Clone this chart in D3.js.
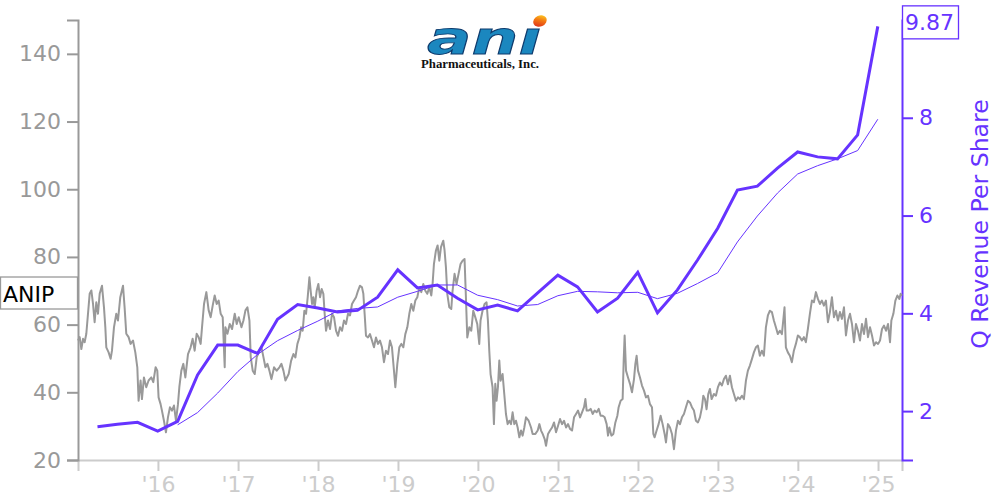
<!DOCTYPE html>
<html><head><meta charset="utf-8">
<script src="https://cdn.jsdelivr.net/npm/d3@7"></script>
<style>body{margin:0;background:#fff;} svg{display:block;font-family:"DejaVu Sans",sans-serif;}</style>
</head><body><svg id="chart" width="1000" height="500"></svg>
<script>
// ---- data ----
const ticker = "ANIP";
const rightTitle = "Q Revenue Per Share";
const quarterEnds = ["2015-03-31","2015-06-30","2015-09-30","2015-12-31","2016-03-31","2016-06-30","2016-09-30","2016-12-31",
"2017-03-31","2017-06-30","2017-09-30","2017-12-31","2018-03-31","2018-06-30","2018-09-30","2018-12-31",
"2019-03-31","2019-06-30","2019-09-30","2019-12-31","2020-03-31","2020-06-30","2020-09-30","2020-12-31",
"2021-03-31","2021-06-30","2021-09-30","2021-12-31","2022-03-31","2022-06-30","2022-09-30","2022-12-31",
"2023-03-31","2023-06-30","2023-09-30","2023-12-31","2024-03-31","2024-06-30","2024-09-30","2024-12-31"];
const revenuePerShare = [1.68,1.73,1.77,1.59,1.79,2.74,3.35,3.35,3.18,3.88,4.18,4.11,4.03,4.06,4.33,4.89,
4.52,4.58,4.31,4.07,4.17,4.05,4.42,4.78,4.54,4.03,4.31,4.84,4.01,4.48,5.09,5.74,6.52,6.60,6.97,7.30,7.20,7.16,7.65,9.87];
const revenueAvg4Q = [null,null,null,null,1.72,1.97,2.37,2.81,3.16,3.44,3.65,3.84,4.05,4.10,4.13,4.33,
4.45,4.58,4.58,4.37,4.28,4.15,4.18,4.36,4.45,4.44,4.42,4.43,4.30,4.41,4.61,4.83,5.46,5.99,6.46,6.85,7.02,7.16,7.33,7.97];
const priceSeries = [
[2015.000,55.3],[2015.021,56.3],[2015.042,52.8],[2015.063,55.8],[2015.083,54.8],[2015.104,57.3],[2015.146,69.1],[2015.167,70.1],[2015.188,66.1],[2015.208,60.7],[2015.229,66.6],[2015.250,63.2],[2015.271,69.1],[2015.300,71.5],[2015.325,65.1],[2015.342,59.2],[2015.354,53.3],[2015.383,51.8],[2015.408,49.9],[2015.425,52.3],[2015.450,59.2],[2015.479,63.2],[2015.500,61.2],[2015.529,68.1],[2015.563,71.5],[2015.583,65.1],[2015.604,57.3],[2015.633,56.3],[2015.658,54.3],[2015.688,55.3],[2015.717,51.8],[2015.742,47.4],[2015.758,37.5],[2015.783,43.5],[2015.800,38.0],[2015.825,44.4],[2015.854,41.5],[2015.883,43.5],[2015.917,44.4],[2015.942,43.0],[2015.971,47.4],[2015.992,46.4],
[2016.008,38.5],[2016.033,36.5],[2016.050,34.6],[2016.075,31.6],[2016.100,28.2],[2016.125,32.6],[2016.150,35.6],[2016.175,34.6],[2016.200,36.1],[2016.225,31.6],[2016.250,36.5],[2016.267,41.5],[2016.292,46.4],[2016.317,48.4],[2016.342,44.4],[2016.375,51.3],[2016.408,53.3],[2016.433,55.8],[2016.458,52.3],[2016.483,57.3],[2016.508,56.3],[2016.533,54.3],[2016.550,59.2],[2016.575,66.1],[2016.604,69.6],[2016.633,64.2],[2016.658,62.2],[2016.683,65.6],[2016.708,68.6],[2016.733,66.1],[2016.758,67.1],[2016.783,63.2],[2016.808,62.2],[2016.833,47.4],[2016.842,59.2],[2016.867,57.3],[2016.896,60.2],[2016.925,58.7],[2016.958,63.2],[2016.983,60.2],
[2017.008,62.2],[2017.042,59.2],[2017.067,61.2],[2017.092,64.2],[2017.117,65.1],[2017.142,61.2],[2017.158,50.4],[2017.183,46.4],[2017.208,45.4],[2017.233,50.4],[2017.267,52.3],[2017.292,53.3],[2017.317,50.4],[2017.342,47.4],[2017.367,48.4],[2017.392,46.4],[2017.417,43.9],[2017.450,47.4],[2017.483,46.4],[2017.517,47.4],[2017.542,48.4],[2017.567,46.4],[2017.592,43.5],
[2017.633,45.4],[2017.663,49.3],[2017.692,51.3],[2017.717,50.3],[2017.742,54.3],[2017.767,56.2],[2017.788,59.2],[2017.808,58.2],[2017.829,64.1],[2017.850,63.2],[2017.871,68.1],[2017.892,74.0],[2017.908,70.0],[2017.925,66.1],[2017.942,68.1],[2017.958,65.1],[2017.983,70.0],
[2018.004,72.0],[2018.025,68.1],[2018.046,70.5],[2018.067,69.1],[2018.083,63.2],[2018.100,58.2],[2018.125,61.2],[2018.150,58.7],[2018.175,63.2],[2018.200,62.2],[2018.225,58.2],[2018.250,56.7],[2018.275,59.2],[2018.300,58.2],[2018.325,61.2],[2018.350,60.2],[2018.375,63.2],[2018.400,62.7],[2018.425,66.1],[2018.450,67.1],[2018.475,68.1],[2018.500,70.0],[2018.525,71.5],[2018.550,71.0],[2018.567,69.1],[2018.583,63.2],[2018.600,56.7],[2018.625,56.2],[2018.650,57.2],[2018.675,55.3],[2018.700,53.3],[2018.725,56.2],[2018.750,54.3],[2018.775,55.3],[2018.800,53.3],[2018.825,48.9],[2018.850,52.3],[2018.875,51.3],[2018.900,55.3],[2018.925,53.3],[2018.950,46.4],[2018.967,41.5],[2018.992,48.4],
[2019.017,53.3],[2019.042,54.3],[2019.067,53.3],[2019.092,57.2],[2019.117,59.2],[2019.142,63.2],[2019.167,66.1],[2019.192,64.1],[2019.217,67.1],[2019.242,68.1],[2019.267,71.0],[2019.292,69.6],[2019.317,72.0],[2019.342,70.0],[2019.367,69.1],[2019.392,71.0],[2019.417,68.6],[2019.433,72.0],[2019.450,77.9],[2019.475,81.9],[2019.496,83.4],[2019.517,78.9],[2019.538,82.9],[2019.567,84.8],[2019.583,81.9],[2019.600,77.0],[2019.617,69.1],[2019.642,65.1],[2019.667,64.6],[2019.683,70.0],[2019.708,75.0],[2019.733,72.0],[2019.758,75.0],[2019.783,77.9],[2019.808,78.9],[2019.833,79.4],[2019.850,68.1],[2019.867,56.2],[2019.892,59.2],[2019.917,58.2],[2019.942,64.1],[2019.967,62.2],[2019.992,60.2],
[2020.017,54.3],[2020.033,61.2],[2020.058,64.1],[2020.083,66.1],[2020.108,66.6],[2020.125,61.2],[2020.142,52.3],[2020.158,45.4],[2020.183,41.5],[2020.200,30.6],[2020.217,42.5],[2020.233,37.5],[2020.250,41.5],[2020.267,49.4],[2020.283,43.4],[2020.308,45.4],[2020.329,39.5],[2020.350,33.6],[2020.371,30.6],[2020.392,31.6],[2020.413,30.6],[2020.433,34.1],[2020.454,30.6],[2020.475,31.6],[2020.496,29.6],[2020.517,26.7],[2020.538,28.7],[2020.558,27.2],[2020.579,29.6],[2020.600,32.6],[2020.633,31.6],[2020.663,29.6],[2020.683,27.7],[2020.717,27.7],[2020.746,28.7],[2020.767,30.6],[2020.788,28.7],[2020.808,27.7],[2020.833,26.2],[2020.850,24.2],[2020.875,27.7],[2020.900,28.7],[2020.925,29.6],[2020.950,31.1],[2020.975,28.2],
[2021.000,30.1],[2021.025,32.1],[2021.050,30.6],[2021.075,31.6],[2021.100,29.6],[2021.125,30.6],[2021.150,29.2],[2021.175,28.7],[2021.200,32.6],[2021.225,33.6],[2021.250,34.6],[2021.275,32.6],[2021.300,34.1],[2021.325,35.6],[2021.342,38.0],[2021.358,34.6],[2021.383,34.6],[2021.408,35.1],[2021.433,33.6],[2021.458,34.6],[2021.483,34.1],[2021.508,35.1],[2021.533,33.1],[2021.558,33.1],[2021.583,32.6],[2021.608,30.6],[2021.625,27.2],[2021.642,29.6],[2021.667,27.2],[2021.692,27.7],[2021.717,31.1],[2021.742,33.1],[2021.758,35.6],[2021.783,37.5],[2021.808,38.0],[2021.821,49.4],[2021.833,56.8],[2021.850,46.4],[2021.875,44.4],[2021.900,42.5],[2021.925,40.0],[2021.950,43.9],[2021.967,48.4],[2021.983,50.8],
[2022.000,46.4],[2022.025,44.4],[2022.050,42.0],[2022.075,40.5],[2022.100,38.5],[2022.125,39.0],[2022.150,36.5],[2022.175,35.6],[2022.192,27.7],[2022.208,26.7],[2022.233,28.7],[2022.258,30.6],[2022.283,33.1],[2022.308,30.6],[2022.333,27.7],[2022.350,25.2],[2022.375,30.6],[2022.400,29.6],[2022.425,27.7],[2022.450,23.2],[2022.475,28.7],[2022.500,31.6],[2022.525,30.6],[2022.550,32.6],[2022.575,33.6],[2022.600,35.6],[2022.625,37.5],[2022.650,37.0],[2022.675,35.6],[2022.700,34.6],[2022.725,31.6],[2022.750,31.1],[2022.775,32.6],[2022.800,35.5],[2022.817,39.0],[2022.838,38.0],[2022.858,35.0],[2022.879,39.5],[2022.900,41.0],[2022.921,38.0],[2022.950,39.5],[2022.975,39.0],
[2023.000,41.5],[2023.025,42.9],[2023.050,42.0],[2023.075,43.9],[2023.100,44.9],[2023.125,42.4],[2023.150,44.9],[2023.175,41.5],[2023.200,39.5],[2023.225,37.5],[2023.250,38.5],[2023.275,38.0],[2023.300,39.0],[2023.325,38.0],[2023.350,43.4],[2023.375,46.4],[2023.400,47.9],[2023.425,49.8],[2023.450,51.8],[2023.475,53.3],[2023.500,53.8],[2023.525,50.8],[2023.550,52.3],[2023.575,50.8],[2023.600,59.2],[2023.625,62.7],[2023.650,64.1],[2023.675,63.7],[2023.700,61.2],[2023.725,59.2],[2023.750,57.2],[2023.775,58.2],[2023.800,57.2],[2023.817,61.2],[2023.833,65.1],[2023.850,53.3],[2023.875,51.8],[2023.900,50.8],[2023.925,48.9],[2023.950,52.3],[2023.975,54.3],
[2024.000,56.8],[2024.025,56.3],[2024.050,55.3],[2024.075,56.3],[2024.100,54.8],[2024.125,58.7],[2024.150,63.2],[2024.175,67.1],[2024.200,66.6],[2024.225,69.6],[2024.250,67.6],[2024.275,66.1],[2024.300,67.1],[2024.325,65.6],[2024.350,67.1],[2024.375,60.7],[2024.400,63.7],[2024.425,68.1],[2024.450,62.2],[2024.475,64.1],[2024.500,61.2],[2024.525,63.7],[2024.550,61.7],[2024.575,65.1],[2024.600,56.8],[2024.625,61.2],[2024.650,63.2],[2024.675,60.2],[2024.700,54.8],[2024.725,60.2],[2024.750,58.2],[2024.775,55.3],[2024.800,60.2],[2024.825,57.2],[2024.850,61.7],[2024.875,56.3],[2024.900,59.2],[2024.925,56.8],[2024.950,53.8],[2024.975,54.8],
[2025.000,54.3],[2025.025,55.3],[2025.050,58.7],[2025.075,59.7],[2025.100,58.2],[2025.125,60.2],[2025.150,54.8],[2025.167,61.2],[2025.192,63.2],[2025.217,67.1],[2025.242,68.6],[2025.267,67.6],[2025.283,69.1],[2025.300,68.6]
];
const priceTicks = [20,40,60,80,100,120,140];
const priceDomain = [20,150];
const revenueTicks = [2,4,6,8];
const revenueDomain = [1,10];
const yearTicks = [2016,2017,2018,2019,2020,2021,2022,2023,2024,2025];

// ---- style ----
const PURPLE = "#6633ff", GRAY = "#999999", LIGHT = "#cccccc";
const W = 1000, H = 500;
const M = {left:78, right:98, top:20, bottom:40};

function decYearToDate(y){
  const yr = Math.floor(y), s = new Date(yr,0,1), e = new Date(yr+1,0,1);
  return new Date(s.getTime() + (y-yr)*(e-s));
}
const parseQ = d3.timeParse("%Y-%m-%d");
const priceData = priceSeries.map(([y,v]) => ({date: decYearToDate(y), v}));
const revData = quarterEnds.map((q,i) => ({date: parseQ(q), v: revenuePerShare[i], avg: revenueAvg4Q[i]}));

const svg = d3.select("#chart");
const x = d3.scaleTime().domain(d3.extent(priceData, d=>d.date)).range([M.left, W-M.right]);
const yL = d3.scaleLinear().domain(priceDomain).range([H-M.bottom, M.top]);
const yR = d3.scaleLinear().domain(revenueDomain).range([H-M.bottom, M.top]);

// x axis
const gx = svg.append("g").attr("transform",`translate(0,${H-M.bottom})`)
  .call(d3.axisBottom(x).tickValues(yearTicks.map(y=>new Date(y,0,1))).tickFormat(d3.timeFormat("'%y")).tickSize(11).tickPadding(5));
gx.select(".domain").attr("stroke",LIGHT).attr("stroke-width",2);
gx.selectAll(".tick line").attr("stroke",LIGHT).attr("stroke-width",2);
gx.selectAll("text").attr("fill",LIGHT).attr("font-size",22).attr("font-family","DejaVu Sans");

// left axis
const gl = svg.append("g").attr("transform",`translate(${M.left},0)`)
  .call(d3.axisLeft(yL).tickValues(priceTicks).tickSize(11).tickPadding(6));
gl.select(".domain").attr("stroke",GRAY).attr("stroke-width",2);
gl.selectAll(".tick line").attr("stroke",GRAY).attr("stroke-width",2);
gl.selectAll("text").attr("fill",GRAY).attr("font-size",22).attr("font-family","DejaVu Sans");

// right axis
const gr = svg.append("g").attr("transform",`translate(${W-M.right},0)`)
  .call(d3.axisRight(yR).tickValues(revenueTicks).tickSize(11).tickPadding(6));
gr.select(".domain").attr("stroke",PURPLE).attr("stroke-width",2);
gr.selectAll(".tick line").attr("stroke",PURPLE).attr("stroke-width",2);
gr.selectAll("text").attr("fill",PURPLE).attr("font-size",22).attr("font-family","DejaVu Sans");

svg.append("text").attr("transform",`translate(${W-M.right+86},${(M.top+H-M.bottom)/2 - 16}) rotate(-90)`)
  .attr("text-anchor","middle").attr("fill",PURPLE).attr("font-size",23.6).text(rightTitle);

// lines
svg.append("path").datum(priceData).attr("fill","none").attr("stroke",GRAY).attr("stroke-width",2)
  .attr("stroke-linejoin","round")
  .attr("d", d3.line().x(d=>x(d.date)).y(d=>yL(d.v)));
svg.append("path").datum(revData.filter(d=>d.avg!=null)).attr("fill","none").attr("stroke",PURPLE).attr("stroke-width",1)
  .attr("d", d3.line().x(d=>x(d.date)).y(d=>yR(d.avg)));
svg.append("path").datum(revData).attr("fill","none").attr("stroke",PURPLE).attr("stroke-width",3)
  .attr("d", d3.line().x(d=>x(d.date)).y(d=>yR(d.v)));

// last value labels
const lastP = priceData[priceData.length-1];
const pY = yL(lastP.v) - 2;
svg.append("rect").attr("x",0.5).attr("y",pY-16.5).attr("width",M.left-1).attr("height",32)
  .attr("fill","#fff").attr("stroke",GRAY).attr("stroke-width",1.3);
svg.append("text").attr("x",3).attr("y",pY+8).attr("font-size",22).attr("fill","#000").text(ticker);

const lastR = revData[revData.length-1];
const rY = yR(lastR.v) - 4;
svg.append("rect").attr("x",W-M.right+0.5).attr("y",rY-16.5).attr("width",56).attr("height",33)
  .attr("fill","#fff").attr("stroke",PURPLE).attr("stroke-width",1.3);
svg.append("text").attr("x",W-M.right+3).attr("y",rY+8).attr("font-size",22).attr("fill",PURPLE).text(d3.format(".2f")(lastR.v));

// logo
const defs = svg.append("defs");
const lg = defs.append("linearGradient").attr("id","dotGrad").attr("x1",0).attr("y1",1).attr("x2",1).attr("y2",0);
lg.append("stop").attr("offset",0).attr("stop-color","#d81e1e");
lg.append("stop").attr("offset",0.55).attr("stop-color","#f47a12");
lg.append("stop").attr("offset",1).attr("stop-color","#ffe62a");
const logo = svg.append("g");
logo.append("text").attr("x",427).attr("y",54).attr("font-family","DejaVu Sans").attr("font-weight","bold")
  .attr("font-style","italic").attr("font-size",46).attr("fill","#1b87bf").attr("stroke","#0e3a6c").attr("stroke-width",0.9)
  .attr("textLength",114).attr("lengthAdjust","spacingAndGlyphs").text("anı");
logo.append("ellipse").attr("cx",540).attr("cy",21).attr("rx",7).attr("ry",5.5)
  .attr("transform","rotate(-25,540,21)").attr("fill","url(#dotGrad)");
logo.append("text").attr("x",421).attr("y",68).attr("font-family","Liberation Serif").attr("font-weight","bold")
  .attr("font-size",12).attr("fill","#111").attr("textLength",118).attr("lengthAdjust","spacingAndGlyphs")
  .text("Pharmaceuticals, Inc.");
</script></body></html>
